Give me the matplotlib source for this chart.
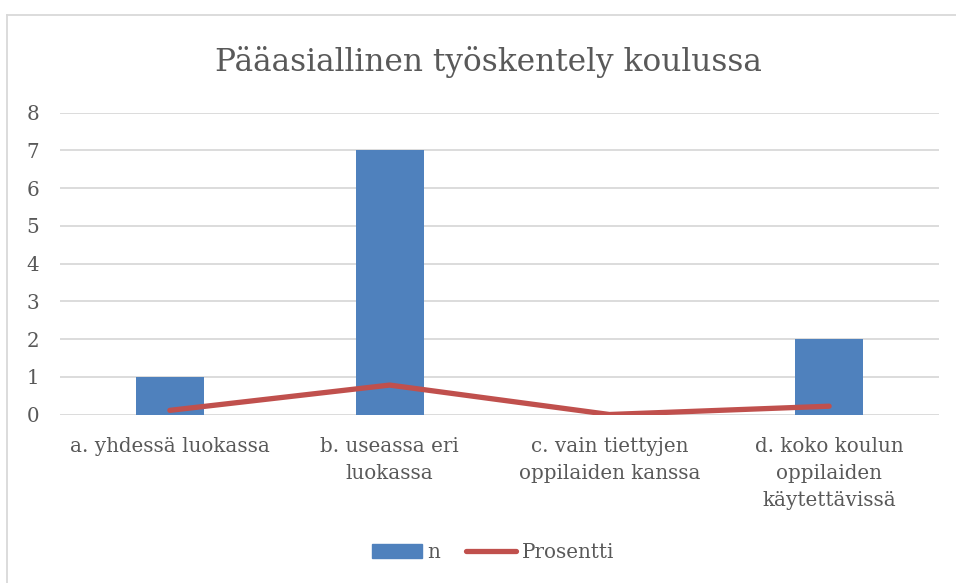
import matplotlib
matplotlib.use("Agg")
import matplotlib.pyplot as plt
from matplotlib.lines import Line2D
from matplotlib.patches import Patch

categories = ["a. yhdessä luokassa", "b. useassa eri\nluokassa",
              "c. vain tiettyjen\noppilaiden kanssa",
              "d. koko koulun\noppilaiden\nkäytettävissä"]
n_values = [1, 7, 0, 2]
prosentti = [0.11, 0.78, 0.0, 0.22]
yticks = [0, 1, 2, 3, 4, 5, 6, 7, 8]

TXT = "#595959"
plt.rcParams['font.family'] = ['DejaVu Serif']

fig = plt.figure(figsize=(9.56, 5.83), dpi=100)
ax = fig.add_axes([60/956, 1-414.5/583, (939-60)/956, (414.5-112.7)/583])

x = list(range(len(categories)))
ax.bar(x, n_values, width=0.31, color="#4f81bd", zorder=3, label="n")
ax.plot(x, prosentti, color="#c0504d", lw=3.8, solid_capstyle="round", zorder=4, label="Prosentti")

ax.set_xlim(-0.5, len(categories)-0.5)
ax.set_ylim(0, 8)
ax.set_yticks(yticks)
ax.set_yticklabels([str(t) for t in yticks])
ax.set_xticks(x)
ax.set_xticklabels(categories, linespacing=1.55)
ax.tick_params(axis='both', length=0, labelsize=14.3, colors=TXT)
ax.tick_params(axis='y', pad=15)
ax.tick_params(axis='x', pad=16)
ax.grid(axis='y', color="#d9d9d9", lw=1.3, zorder=0)
for s in ax.spines.values():
    s.set_visible(False)

fig.text(488/956, 1-62/583, "Pääasiallinen työskentely koulussa", ha='center', va='center',
         fontsize=22.5, color=TXT)

handles = [Patch(color="#4f81bd", label="n"),
           Line2D([0], [0], color="#c0504d", lw=3.8, solid_capstyle="round", label="Prosentti")]
fig.legend(handles=handles, loc='center', bbox_to_anchor=(493/956, 1-552/583), ncol=2,
           frameon=False, fontsize=14.3, labelcolor=TXT, handlelength=2.5, handletextpad=0.3,
           columnspacing=1.3)

# outer chart frame (left and top edges visible)
fig.add_artist(Line2D([7/956, 7/956], [0, 1-15/583], color="#d9d9d9", lw=1.3, transform=fig.transFigure))
fig.add_artist(Line2D([7/956, 1], [1-15/583, 1-15/583], color="#d9d9d9", lw=1.3, transform=fig.transFigure))

fig.savefig("out.png", dpi=100, facecolor="white")
